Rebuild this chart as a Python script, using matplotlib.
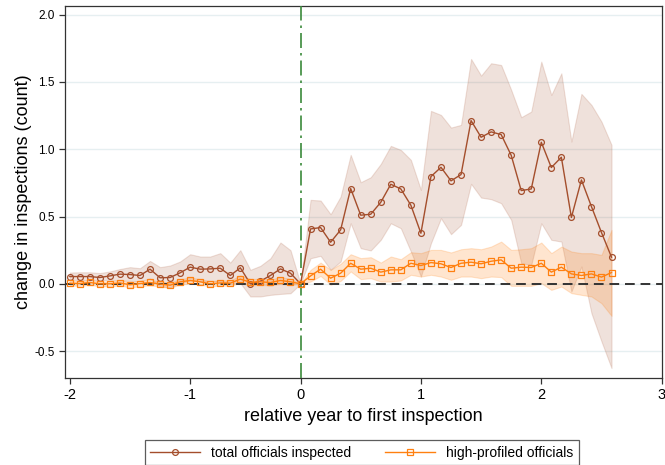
#!/usr/bin/env python3
# -*- coding: utf-8 -*-

import matplotlib
matplotlib.use('Agg')
import matplotlib.pyplot as plt
import numpy as np

# months relative to first inspection
months = list(range(-23, 32))

# total officials inspected: estimate, lower / upper CI
total_est = [0.054, 0.054, 0.054, 0.047, 0.059, 0.072, 0.069, 0.062, 0.109, 0.045,
             0.047, 0.082, 0.124, 0.109, 0.111, 0.116, 0.062, 0.119, 0.0, 0.02,
             0.062, 0.111, 0.079, 0.0,
             0.408, 0.418, 0.309, 0.401, 0.708, 0.51, 0.517, 0.606, 0.74, 0.705,
             0.584, 0.376, 0.797, 0.866, 0.765, 0.812, 1.213, 1.089, 1.129, 1.109,
             0.955, 0.693, 0.705, 1.052, 0.864, 0.941, 0.493, 0.772, 0.574, 0.381,
             0.198]
total_lo = [0.03, 0.028, 0.028, 0.027, 0.03, 0.025, 0.022, 0.02, 0.04, -0.02,
            -0.025, 0.005, 0.025, 0.018, 0.02, 0.02, 0.0, 0.005, -0.094, -0.094,
            -0.082, -0.075, -0.07, 0.0,
            0.19, 0.208, 0.104, 0.166, 0.45, 0.265, 0.248, 0.327, 0.45, 0.413,
            0.24, 0.054, 0.302, 0.488, 0.369, 0.438, 0.743, 0.641, 0.629, 0.599,
            0.475, 0.153, 0.141, 0.45, 0.327, 0.314, -0.057, 0.129, -0.218, -0.428,
            -0.626]
total_hi = [0.084, 0.086, 0.086, 0.08, 0.092, 0.11, 0.124, 0.116, 0.17, 0.124,
            0.136, 0.166, 0.22, 0.203, 0.203, 0.228, 0.158, 0.25, 0.104, 0.134,
            0.19, 0.307, 0.25, 0.0,
            0.624, 0.619, 0.517, 0.649, 0.958, 0.755, 0.792, 0.891, 1.025, 0.995,
            0.921, 0.698, 1.285, 1.255, 1.161, 1.181, 1.671, 1.547, 1.639, 1.626,
            1.441, 1.238, 1.28, 1.651, 1.403, 1.564, 1.057, 1.411, 1.329, 1.205,
            1.032]

# high-profiled officials: estimate, lower / upper CI
high_est = [0.005, 0.002, 0.01, 0.0, 0.0, 0.007, -0.007, 0.002, 0.01, -0.002,
            -0.01, 0.015, 0.025, 0.015, 0.0, 0.007, 0.005, 0.035, 0.012, 0.015,
            0.01, 0.025, 0.015, 0.0,
            0.059, 0.109, 0.042, 0.079, 0.153, 0.109, 0.116, 0.087, 0.104, 0.104,
            0.153, 0.136, 0.158, 0.149, 0.121, 0.153, 0.161, 0.149, 0.168, 0.178,
            0.116, 0.124, 0.121, 0.153, 0.087, 0.124, 0.074, 0.062, 0.074, 0.05,
            0.084]
high_lo = [-0.012, -0.015, -0.008, -0.018, -0.018, -0.012, -0.027, -0.018, -0.01, -0.022,
           -0.03, -0.005, 0.003, -0.005, -0.02, -0.012, -0.015, 0.008, -0.012, -0.008,
           -0.012, 0.0, -0.008, 0.0,
           0.017, 0.059, -0.007, 0.022, 0.092, 0.035, 0.042, 0.017, 0.017, 0.025,
           0.067, 0.054, 0.067, 0.054, 0.03, 0.054, 0.054, 0.042, 0.054, 0.05,
           -0.015, -0.015, -0.015, 0.005, -0.045, -0.02, -0.069, -0.082, -0.094, -0.144,
           -0.238]
high_hi = [0.022, 0.02, 0.028, 0.018, 0.018, 0.026, 0.013, 0.022, 0.03, 0.018,
           0.01, 0.035, 0.047, 0.035, 0.02, 0.026, 0.025, 0.062, 0.036, 0.038,
           0.032, 0.05, 0.038, 0.0,
           0.104, 0.158, 0.104, 0.149, 0.22, 0.191, 0.198, 0.158, 0.203, 0.183,
           0.235, 0.228, 0.252, 0.252, 0.233, 0.257, 0.265, 0.257, 0.277, 0.314,
           0.252, 0.257, 0.265, 0.307, 0.228, 0.277, 0.24, 0.228, 0.228, 0.215,
           0.401]

# x tick positions (in years) and their labels
xtick_pos = [-23 / 12, -11 / 12, 0, 1, 2, 3]
xtick_lab = ['-2', '-1', '0', '1', '2', '3']
ytick_pos = [-0.5, 0.0, 0.5, 1.0, 1.5, 2.0]


def Draw():
    plt.rcParams['font.family'] = ['Liberation Sans', 'DejaVu Sans']
    brown = '#a44e2c'
    orange = '#ff8010'

    x = np.array(months) / 12.0
    fig = plt.figure(figsize=(6.65, 4.65), dpi=100)
    ax = fig.add_axes([0.098, 0.187, 0.897, 0.800])

    for yv in ytick_pos:
        ax.axhline(yv, color='#e6eff1', lw=1.0, zorder=0)

    ax.fill_between(x, total_lo, total_hi, facecolor=brown, alpha=0.17,
                    edgecolor=brown, linewidth=0.8, zorder=1)
    ax.fill_between(x, high_lo, high_hi, facecolor=orange, alpha=0.2,
                    edgecolor=orange, linewidth=0.8, zorder=2)

    ax.axhline(0, color='#333333', lw=1.4, ls=(0, (5, 3)), zorder=3)
    ax.axvline(0, color='#3b8a3b', lw=1.2, ls=(0, (9, 3, 1.5, 3)), zorder=3)

    ax.plot(x, total_est, color=brown, lw=1.0, marker='o', ms=4.2,
            mfc='none', mec=brown, mew=0.9, label='total officials inspected', zorder=4)
    ax.plot(x, high_est, color=orange, lw=1.0, marker='s', ms=4.2,
            mfc='none', mec=orange, mew=0.9, label='high-profiled officials', zorder=5)

    ax.set_xlim(-1.955, 3.0)
    ax.set_ylim(-0.70, 2.064)
    ax.set_xticks(xtick_pos)
    ax.set_xticklabels(xtick_lab, fontsize=10.5)
    ax.set_yticks(ytick_pos)
    ax.set_yticklabels(['%.1f' % v for v in ytick_pos], fontsize=8.5)
    ax.tick_params(direction='out', length=4, width=0.9, color='#333333')
    for s in ax.spines.values():
        s.set_color('#333333')
        s.set_linewidth(0.9)

    ax.set_xlabel('relative year to first inspection', fontsize=13, labelpad=4)
    ax.set_ylabel('change in inspections (count)', fontsize=13, labelpad=2)

    leg = ax.legend(loc='upper center', bbox_to_anchor=(0.497, -0.148), ncol=2,
                    fontsize=10, frameon=True, fancybox=False, edgecolor='#333333',
                    handlelength=3.6, columnspacing=2.4, borderpad=0.4)
    leg.get_frame().set_linewidth(0.9)

    fig.savefig('out.png', dpi=100)


def main():
    Draw()

if __name__ == '__main__':
    main()
